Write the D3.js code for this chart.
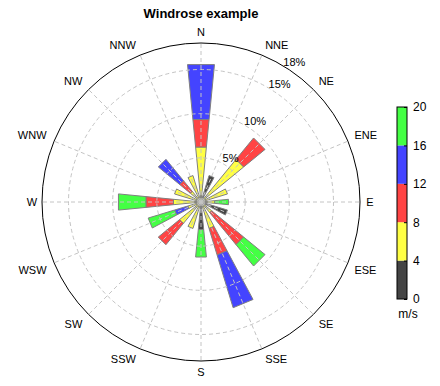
<!DOCTYPE html>
<html>
<head>
<meta charset="utf-8">
<script src="https://cdn.jsdelivr.net/npm/d3@7"></script>
<style>
  body { margin: 0; background: #fff; }
  svg { font-family: "Liberation Sans", Arial, sans-serif; }
  .grid { fill: none; stroke: #c4c4c4; stroke-dasharray: 4,3; }
  .dir-label, .pct-label { font-size: 11px; fill: #000; }
  .cbar text { font-size: 12px; fill: #000; }
</style>
</head>
<body>
<div id="chart"></div>
<script>
// Windrose: share of observations (%) per direction and speed class

const directions = ["N", "NNE", "NE", "ENE", "E", "ESE", "SE", "SSE",
                    "S", "SSW", "SW", "WSW", "W", "WNW", "NW", "NNW"];
const speedClasses = ["0-4", "4-8", "8-12", "12-16", "16-20"];
const speedTicks = [0, 4, 8, 12, 16, 20];
const pctTicks = [5, 10, 15, 18];

// one array per speed class, values in % following `directions`
const speed0to4   = [0,    3.13, 0,    0,    0,    3.13, 0,    0,    3.13, 0,    0,    0,    0,    0,    0,    0];
const speed4to8   = [6.25, 0,    6.25, 3.13, 1.56, 0,    1.56, 3.13, 0,    3.13, 3.13, 1.56, 3.13, 3.13, 1.56, 3.13];
const speed8to12  = [3.13, 0,    3.13, 0,    0,    0,    4.69, 3.13, 0,    0,    3.13, 0,    3.13, 0,    1.56, 0];
const speed12to16 = [6.25, 0,    0,    0,    0,    0,    0,    6.25, 0,    0,    0,    1.56, 0,    0,    3.13, 0];
const speed16to20 = [0,    0,    0,    0,    1.56, 0,    3.13, 0,    3.13, 0,    0,    3.13, 3.13, 0,    0,    0];

const series = [speed0to4, speed4to8, speed8to12, speed12to16, speed16to20];
const classColors = ["#444444", "#ffff44", "#ff4444", "#4444ff", "#44ff44"];

const width = 440, height = 386;
const cx = 201, cy = 202, R = 159;

const rows = directions.map((d, i) => {
    const row = { dir: d };
    speedClasses.forEach((k, j) => row[k] = series[j][i]);
    return row;
});
const stacked = d3.stack().keys(speedClasses)(rows);

const svg = d3.select("#chart").append("svg")
    .attr("width", width)
    .attr("height", height);

// Scales
const angle = d3.scalePoint().domain(directions).range([0, 337.5]);
const rScale = d3.scaleLinear().domain([0, 18]).range([0, R]);
const color = d3.scaleOrdinal().domain(speedClasses).range(classColors);

const rad = deg => deg * Math.PI / 180;
const polar = (r, deg) => [r * Math.sin(rad(deg)), -r * Math.cos(rad(deg))];

const plot = svg.append("g").attr("transform", `translate(${cx}, ${cy})`);

// Bars (wedges with straight edges)
const halfWidth = 5.6;
const segments = [];
stacked.forEach(layer => {
    layer.forEach(seg => {
        if (seg[1] - seg[0] > 0) {
            segments.push({ key: layer.key, dir: seg.data.dir, r0: seg[0], r1: seg[1] });
        }
    });
});

plot.selectAll(".wedge")
    .data(segments)
    .join("path")
    .attr("class", "wedge")
    .attr("d", d => {
        const a = angle(d.dir);
        const pts = [
            polar(rScale(d.r0), a - halfWidth),
            polar(rScale(d.r1), a - halfWidth),
            polar(rScale(d.r1), a + halfWidth),
            polar(rScale(d.r0), a + halfWidth)
        ];
        return d3.line()(pts) + "Z";
    })
    .attr("fill", d => color(d.key))
    .attr("stroke", "#808080")
    .attr("stroke-width", 1);

// Grid on top of bars
plot.selectAll(".grid-circle")
    .data(pctTicks.slice(0, 3))
    .join("circle")
    .attr("class", "grid")
    .attr("r", d => rScale(d));

plot.selectAll(".grid-spoke")
    .data(directions)
    .join("line")
    .attr("class", "grid")
    .attr("x1", 0).attr("y1", 0)
    .attr("x2", d => polar(R, angle(d))[0])
    .attr("y2", d => polar(R, angle(d))[1]);

// Outer circle
plot.append("circle")
    .attr("r", R)
    .attr("fill", "none")
    .attr("stroke", "#000")
    .attr("stroke-width", 1);

// Percentage labels along 33.75 deg
plot.selectAll(".pct-label")
    .data(pctTicks)
    .join("text")
    .attr("class", "pct-label")
    .attr("x", d => polar(rScale(d) + 9, 33.75)[0])
    .attr("y", d => polar(rScale(d) + 9, 33.75)[1])
    .attr("text-anchor", "middle")
    .attr("dominant-baseline", "central")
    .text(d => d + "%");

// Direction labels: anchored just outside the circle, aligned away from it
plot.selectAll(".dir-label")
    .data(directions)
    .join("text")
    .attr("class", "dir-label")
    .text(d => d)
    .each(function(d) {
        const a = angle(d);
        const s = Math.sin(rad(a)), c = Math.cos(rad(a));
        const el = d3.select(this);
        if (Math.abs(s) > 0.99) {
            // E and W: centred
            const [x, y] = polar(R + 10, a);
            el.attr("x", x).attr("y", y + 4).attr("text-anchor", "middle");
            return;
        }
        const [x, y] = polar(R + 6, a);
        let anchor = "middle", dx = 0;
        if (s > 0.1) { anchor = "start"; dx = 1; }
        else if (s < -0.1) { anchor = "end"; dx = -2; }
        // caps height ~8px: bottom-align above, top-align below
        const dy = c > 0.1 ? (c > 0.9 ? -1 : 0) : 9;
        el.attr("x", x + dx).attr("y", y + dy).attr("text-anchor", anchor);
    });

// Title
svg.append("text")
    .attr("x", cx)
    .attr("y", 18)
    .attr("text-anchor", "middle")
    .style("font-size", "13px")
    .style("font-weight", "bold")
    .text("Windrose example");

// Colour bar
const cbX = 397, cbW = 10;
const cbScale = d3.scaleLinear().domain([0, 20]).range([299, 107]);
const cbar = svg.append("g").attr("class", "cbar");

cbar.selectAll(".cb-cell")
    .data(speedClasses)
    .join("rect")
    .attr("class", "cb-cell")
    .attr("x", cbX)
    .attr("y", (d, i) => cbScale(speedTicks[i + 1]))
    .attr("width", cbW)
    .attr("height", (d, i) => cbScale(speedTicks[i]) - cbScale(speedTicks[i + 1]))
    .attr("fill", d => color(d));

cbar.append("rect")
    .attr("x", cbX)
    .attr("y", cbScale(20))
    .attr("width", cbW)
    .attr("height", cbScale(0) - cbScale(20))
    .attr("fill", "none")
    .attr("stroke", "#000");

const cbAxis = cbar.append("g")
    .attr("transform", `translate(${cbX + cbW}, 0)`)
    .call(d3.axisRight(cbScale).tickValues(speedTicks).tickSize(-3).tickPadding(6));
cbAxis.select(".domain").remove();
cbAxis.selectAll("text").attr("font-size", null).attr("font-family", null);

cbar.append("text")
    .attr("x", cbX + 11)
    .attr("y", 318)
    .attr("text-anchor", "middle")
    .text("m/s");
</script>
</body>
</html>
